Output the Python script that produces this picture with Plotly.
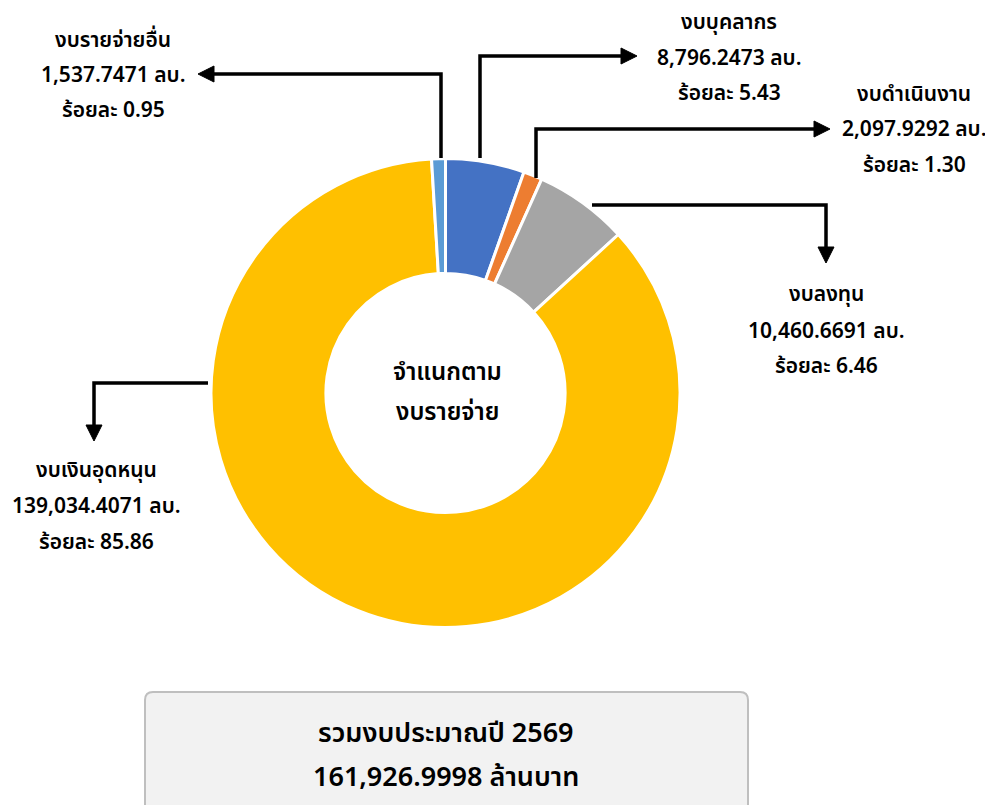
import plotly.graph_objects as go

# budget split, clockwise from 12 o'clock
names = ["งบบุคลากร", "งบดำเนินงาน", "งบลงทุน", "งบเงินอุดหนุน", "งบรายจ่ายอื่น"]
amounts = [8796.2473, 2097.9292, 10460.6691, 139034.4071, 1537.7471]
percents = ["5.43", "1.30", "6.46", "85.86", "0.95"]
colors = ["#4472C4", "#ED7D31", "#A5A5A5", "#FFC000", "#5B9BD5"]

center_text = ["จำแนกตาม", "งบรายจ่าย"]
total_text = ["รวมงบประมาณปี 2569", "161,926.9998 ล้านบาท"]

# page has an 8px body margin, so the figure is drawn 8px in from the window corner
OFF = 8
W, H = 993 - OFF, 805 - OFF
FONT = "Tahoma, 'Noto Sans Thai', 'Noto Sans', sans-serif"

fig = go.Figure()

# donut centred around (445, 393) window px, outer radius ~234
cx, cy, r = 445.5 - OFF, 393 - OFF, 234.5
fig.add_trace(go.Pie(
    labels=names, values=amounts, sort=False, direction="clockwise", rotation=0,
    hole=0.51, textinfo="none", hoverinfo="label+value+percent",
    marker=dict(colors=colors, line=dict(color="white", width=3)),
    domain=dict(x=[(cx - r) / W, (cx + r) / W], y=[(H - cy - r) / H, (H - cy + r) / H]),
    showlegend=False,
))

# invisible axes in window pixel coordinates for the callouts
fig.update_xaxes(range=[OFF, 993], visible=False, fixedrange=True)
fig.update_yaxes(range=[805, OFF], visible=False, fixedrange=True)

shapes = []
def elbow(path):
    shapes.append(dict(type="path", path=path, xref="x", yref="y",
                       line=dict(color="black", width=3.5)))

def head(tip, direction):
    x, y = tip
    L, h = 16, 8
    if direction == "left":
        p = f"M{x},{y} L{x+L},{y-h} L{x+L},{y+h} Z"
    elif direction == "right":
        p = f"M{x},{y} L{x-L},{y-h} L{x-L},{y+h} Z"
    else:
        p = f"M{x},{y} L{x-h},{y-L} L{x+h},{y-L} Z"
    shapes.append(dict(type="path", path=p, xref="x", yref="y",
                       fillcolor="black", line=dict(color="black", width=1)))

elbow("M441,158 L441,74 L210,74")
head((198, 74), "left")
elbow("M480,158 L480,56 L625,56")
head((637, 56), "right")
elbow("M536,178 L536,129 L818,129")
head((830, 129), "right")
elbow("M592,205 L826,205 L826,250")
head((826, 263), "down")
elbow("M208,383 L94,383 L94,428")
head((94, 441), "down")

# total box with rounded corners
x0, x1, y0, y1, rc = 145, 748, 692, 830, 8
shapes.append(dict(
    type="path", xref="x", yref="y",
    path=(f"M{x0+rc},{y0} L{x1-rc},{y0} Q{x1},{y0} {x1},{y0+rc} L{x1},{y1} "
          f"L{x0},{y1} L{x0},{y0+rc} Q{x0},{y0} {x0+rc},{y0} Z"),
    fillcolor="#F2F2F2", line=dict(color="#BFBFBF", width=2), layer="below"))

annotations = []
def block(x, ys, lines, size=21):
    for y, t in zip(ys, lines):
        annotations.append(dict(
            x=x, y=y, xref="x", yref="y", showarrow=False,
            xanchor="center", yanchor="middle", text=t,
            font=dict(family=FONT, size=size, color="black", weight=600)))

label_pos = [(729, [22, 58, 93]), (914, [94, 129, 165]), (826, [294, 331, 366]),
             (96, [470, 506, 542]), (113, [40, 75, 110])]
for (x, ys), n, v, p in zip(label_pos, names, amounts, percents):
    block(x, ys, [n, f"{v:,.4f} ลบ.", f"ร้อยละ {p}"])

block(447, [373, 413], center_text, size=24)
block(446, [733, 777], total_text, size=27)

fig.update_layout(
    width=W, height=H, margin=dict(l=0, r=0, t=0, b=0),
    paper_bgcolor="white", plot_bgcolor="white",
    shapes=shapes, annotations=annotations,
    font=dict(family=FONT),
)

fig.write_html("out.html")
